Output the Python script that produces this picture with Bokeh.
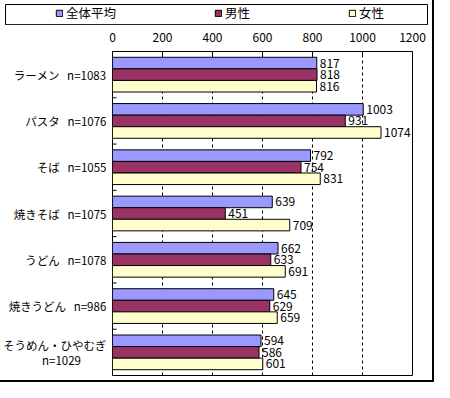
from bokeh.plotting import figure
from bokeh.models import FactorRange, Range1d, FixedTicker, Legend, LegendItem, ColumnDataSource, InlineStyleSheet
from bokeh.transform import dodge
from bokeh.layouts import column
from bokeh.core.properties import value
from bokeh.embed import file_html
from bokeh.resources import INLINE

categories = ["ラーメン", "パスタ", "そば", "焼きそば", "うどん", "焼きうどん", "そうめん・ひやむぎ"]
n_values = [1083, 1076, 1055, 1075, 1078, 986, 1029]
series_names = ["全体平均", "男性", "女性"]
avg = [817, 1003, 792, 639, 662, 645, 594]
male = [818, 931, 754, 451, 633, 629, 586]
female = [816, 1074, 831, 709, 691, 659, 601]
x_ticks = [0, 200, 400, 600, 800, 1000, 1200]
colors = ["#9999FF", "#993366", "#FFFFCC"]

FONT = "Noto Sans CJK JP"
NB = "\u00a0"

labels = [c + ("\n" + "n=" + str(n) + "\u3000\u3000" + NB if len(c) > 6 else NB * 3 + "n=" + str(n))
          for c, n in zip(categories, n_values)]

W = 432
TOTAL_H = 380
LEG_H = 27
H = TOTAL_H - LEG_H

src = ColumnDataSource(dict(label=labels, avg=avg, male=male, female=female))

p = figure(width=W, height=H, y_range=FactorRange(factors=labels[::-1]),
           x_range=Range1d(0, 1200), x_axis_location="above",
           output_backend="svg", toolbar_location=None,
           min_border_left=111, min_border_right=20, min_border_top=24, min_border_bottom=5)
p.frame_align = False
p.outline_line_color = "black"
p.outline_line_width = 1

# small tick marks at group boundaries on the left edge
bsrc = ColumnDataSource(dict(label=labels[:-1]))
p.segment(x0=0, x1=16, y0=dodge("label", -0.5, range=p.y_range),
          y1=dodge("label", -0.5, range=p.y_range), source=bsrc,
          line_color="black", line_width=1)

offsets = [0.25, 0.0, -0.25]
fields = ["avg", "male", "female"]
for f, off, col in zip(fields, offsets, colors):
    yy = dodge("label", off, range=p.y_range)
    p.hbar(y=yy, right=f, left=0, height=0.25, source=src,
           fill_color=col, line_color="black", line_width=1)
    p.text(x=f, y=yy, text=f, source=src, x_offset=3,
           text_baseline="middle", text_align="left",
           text_font=value(FONT), text_font_size="12px", text_color="black")

p.xaxis.ticker = FixedTicker(ticks=x_ticks)
p.xaxis.axis_line_color = None
p.xaxis.major_tick_in = 5
p.xaxis.major_tick_out = 0
p.xaxis.minor_tick_line_color = None
p.xaxis.major_tick_line_color = "black"
p.xaxis.major_label_standoff = 10
p.xaxis.major_label_text_font = FONT
p.xaxis.major_label_text_font_size = "12px"
p.xaxis.major_label_text_color = "black"

p.yaxis.axis_line_color = None
p.yaxis.major_tick_in = 0
p.yaxis.major_tick_out = 0
p.yaxis.major_label_standoff = 6
p.yaxis.major_label_text_font = FONT
p.yaxis.major_label_text_font_size = "11.5px"
p.yaxis.major_label_text_color = "black"
p.yaxis.major_label_text_line_height = 0.95

p.xgrid.grid_line_color = "black"
p.xgrid.grid_line_dash = "3 3"
p.xgrid.grid_line_width = 1
p.ygrid.grid_line_color = None

# legend figure
lf = figure(width=W, height=LEG_H, x_range=Range1d(0, 1), y_range=Range1d(0, 1),
            output_backend="svg", toolbar_location=None,
            min_border_left=5, min_border_right=5, min_border_top=4, min_border_bottom=3)
lf.frame_align = False
lf.axis.visible = False
lf.grid.visible = False
lf.outline_line_color = "black"
items = []
for name, col in zip(series_names, colors):
    r = lf.hbar(y=[-5], right=[1], left=0, height=0.5, fill_color=col, line_color="black")
    items.append(LegendItem(label=name, renderers=[r]))
leg = Legend(items=items, orientation="horizontal", location=(50, 2),
             border_line_color=None, background_fill_alpha=0,
             padding=0, margin=0, spacing=98, glyph_width=8, glyph_height=8,
             label_standoff=3, label_height=16,
             label_text_font=FONT, label_text_font_size="12.5px", label_text_color="black")
lf.add_layout(leg, "center")

css = InlineStyleSheet(css=":host { outline: 2px solid black; outline-offset: 0px; }")
layout = column(lf, p, spacing=0, width=W, height=TOTAL_H, sizing_mode="fixed", stylesheets=[css])

open("out.html", "w").write(file_html(layout, INLINE))
